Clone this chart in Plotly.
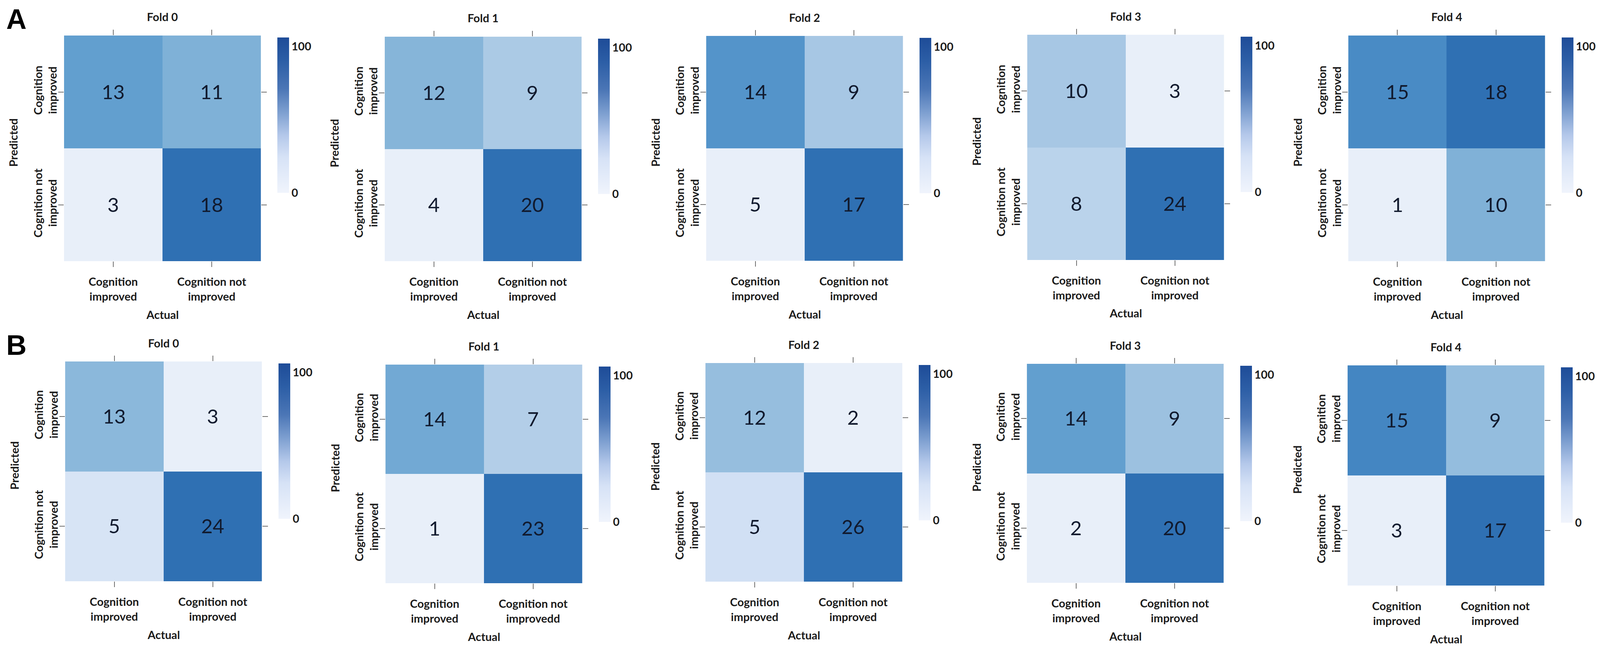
import plotly.graph_objects as go

# confusion matrices, rows = predicted, cols = actual
a_fold_0 = [[13, 11], [3, 18]]
a_fold_1 = [[12, 9], [4, 20]]
a_fold_2 = [[14, 9], [5, 17]]
a_fold_3 = [[10, 3], [8, 24]]
a_fold_4 = [[15, 18], [1, 10]]

b_fold_0 = [[13, 3], [5, 24]]
b_fold_1 = [[14, 7], [1, 23]]
b_fold_2 = [[12, 2], [5, 26]]
b_fold_3 = [[14, 9], [2, 20]]
b_fold_4 = [[15, 9], [3, 17]]

fold_titles = ["Fold 0", "Fold 1", "Fold 2", "Fold 3", "Fold 4"]
pred_labels = ["Cognition<br>improved", "Cognition not<br>improved"]
actual_labels = ["Cognition<br>improved", "Cognition not<br>improved"]
# the second B panel really says "improvedd"
actual_labels_typo = ["Cognition<br>improved", "Cognition not<br>improvedd"]
cbar_ticks = [0, 100]
panel_letters = ["A", "B"]

rows = [
    [a_fold_0, a_fold_1, a_fold_2, a_fold_3, a_fold_4],
    [b_fold_0, b_fold_1, b_fold_2, b_fold_3, b_fold_4],
]

# reference canvas size, everything is placed as a fraction of it
W, H = 4550, 1660
CELL_W = 560

# pixel boxes of each heatmap in the reference (left, top, bottom)
lefts = [[182, 1094, 2008, 2921, 3834], [185, 1096, 2006, 2920, 3832]]
tops = [[91, 94, 92, 89, 91], [926, 934, 930, 932, 936]]
bottoms = [[669, 669, 668, 666, 669], [1489, 1494, 1490, 1493, 1500]]

# cell colours (per-panel min -> max)
cell_scale = [
    [0.0, "#e8eff9"], [0.12, "#d2e1f4"], [0.3, "#adcbe6"], [0.5, "#86b5d9"],
    [0.7, "#5b9bcd"], [0.85, "#4587c3"], [1.0, "#2f70b3"],
]
# colour bar gradient
bar_scale = [
    [0.0, "#f0f4fc"], [0.23, "#d6e2f6"], [0.37, "#b4c8ea"], [0.52, "#7d9fd0"],
    [0.67, "#4b76b6"], [0.85, "#2c5ea6"], [1.0, "#1e4c98"],
]

FONT = "Lato"
TXT = "#1b1b1b"
LBL = 29


def bold(size, color=TXT, family=FONT):
    return dict(family=family, size=size, color=color, weight="bold")


def px_x(v):
    return v / W


def px_y(v):
    return 1 - v / H


fig = go.Figure()
annotations = []

n = 0
for r, row in enumerate(rows):
    for c, cm in enumerate(row):
        n += 1
        xa = "x" if n == 1 else f"x{n}"
        ya = "y" if n == 1 else f"y{n}"
        xlab = actual_labels_typo if (r == 1 and c == 1) else actual_labels
        flat = [v for line in cm for v in line]

        fig.add_trace(go.Heatmap(
            z=cm, x=xlab, y=pred_labels,
            xaxis=xa, yaxis=ya,
            colorscale=cell_scale, zmin=min(flat), zmax=max(flat),
            showscale=False, xgap=0, ygap=0,
            texttemplate="%{z}",
            textfont=dict(family=FONT, size=51, color="#111a2e"),
            hoverinfo="skip",
        ))

        left, top, bot = lefts[r][c], tops[r][c], bottoms[r][c]
        right = left + CELL_W
        mid_x = (left + right) / 2
        mid_y = (top + bot) / 2

        # colour bar 0..100 drawn from an invisible marker
        fig.add_trace(go.Scatter(
            x=[xlab[0]], y=[pred_labels[0]], xaxis=xa, yaxis=ya,
            mode="markers", hoverinfo="skip", showlegend=False,
            marker=dict(
                size=1, opacity=0, color=[0], cmin=0, cmax=106,
                colorscale=bar_scale, showscale=True,
                colorbar=dict(
                    x=px_x(right + 47), xanchor="left",
                    y=px_y(top + 5), yanchor="top",
                    len=398 / H, lenmode="fraction",
                    thickness=33 / W, thicknessmode="fraction",
                    outlinewidth=0, xpad=0, ypad=0,
                    tickvals=cbar_ticks, ticks="",
                    tickfont=bold(LBL),
                ),
            ),
        ))

        axis_common = dict(
            ticks="outside", ticklen=14, tickwidth=2, tickcolor="#707070",
            mirror="ticks", showline=True, linecolor="rgba(0,0,0,0)",
            showgrid=False, zeroline=False, automargin=False,
            tickfont=bold(LBL),
        )
        fig.layout[xa.replace("x", "xaxis")] = dict(
            axis_common,
            domain=[px_x(left), px_x(right)], anchor=ya,
            ticklabelstandoff=13,
        )
        fig.layout[ya.replace("y", "yaxis")] = dict(
            axis_common,
            domain=[px_y(bot), px_y(top)], anchor=xa,
            autorange="reversed", tickangle=-90,
            ticklabelstandoff=-8,
        )

        annotations.append(dict(
            text=fold_titles[c], x=px_x(mid_x), y=px_y(top - 48),
            font=bold(LBL),
        ))
        annotations.append(dict(
            text="Actual", x=px_x(mid_x), y=px_y(bot + 136),
            font=bold(LBL),
        ))
        annotations.append(dict(
            text="Predicted", x=px_x(left - 144), y=px_y(mid_y - 15),
            textangle=-90, font=bold(LBL),
        ))

    annotations.append(dict(
        text=panel_letters[r], x=px_x(15), y=px_y(tops[r][0] - 42),
        xanchor="left", font=bold(72, "black", "Liberation Sans"),
    ))

for a in annotations:
    a.update(xref="paper", yref="paper", showarrow=False)
    a.setdefault("xanchor", "center")
    a.setdefault("yanchor", "middle")

fig.update_layout(
    autosize=True,
    margin=dict(l=0, r=0, t=0, b=0, pad=0),
    paper_bgcolor="white", plot_bgcolor="white",
    showlegend=False,
    annotations=annotations,
)

# fill the whole browser window, whatever its css size is
fig.write_html(
    "out.html",
    default_width="100vw", default_height="100vh",
    config={"responsive": True, "displayModeBar": False},
    post_script="document.body.style.margin='0';"
                "document.body.style.overflow='hidden';"
                "Plotly.Plots.resize(document.getElementById('{plot_id}'));",
)
